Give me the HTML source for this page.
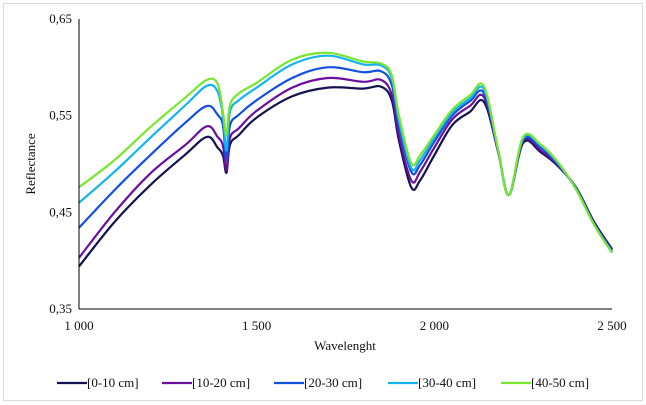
<!DOCTYPE html>
<html><head><meta charset="utf-8"><style>
html,body{margin:0;padding:0;background:#fff;}
svg{display:block;font-family:"Liberation Serif",serif;}
</style></head><body>
<svg id="chart" width="646" height="405">
<rect x="3.5" y="3.5" width="639" height="397" fill="#fff" stroke="#d9d9d9"/>
<g id="plot"></g>
<g id="axes"></g>
<g id="legend"></g>
</svg>
<script>
const wavelengths=[1000,1100,1200,1300,1360,1390,1405,1415,1425,1450,1500,1600,1700,1800,1850,1880,1900,1935,1960,2000,2050,2100,2140,2180,2210,2250,2300,2350,2400,2450,2500];
const s0_10=[.394,.440,.478,.510,.528,.517,.509,.491,.520,.530,.548,.570,.579,.578,.580,.566,.525,.476,.483,.509,.540,.554,.564,.512,.468,.522,.512,.497,.475,.440,.412];
const s10_20=[.403,.450,.490,.520,.539,.528,.519,.494,.527,.537,.555,.579,.589,.585,.587,.572,.530,.483,.492,.517,.546,.560,.569,.512,.468,.524,.514,.498,.474,.439,.411];
const s20_30=[.434,.473,.509,.543,.560,.551,.540,.504,.540,.551,.566,.589,.600,.595,.596,.582,.540,.492,.499,.523,.550,.565,.573,.513,.468,.525,.517,.499,.474,.438,.410];
const s30_40=[.460,.492,.527,.561,.581,.575,.549,.514,.554,.566,.579,.603,.612,.603,.602,.589,.546,.496,.504,.527,.553,.568,.577,.514,.468,.527,.519,.500,.473,.437,.409];
const s40_50=[.476,.504,.538,.569,.587,.583,.554,.530,.561,.573,.584,.608,.615,.606,.604,.592,.551,.501,.509,.530,.556,.571,.580,.514,.468,.528,.520,.501,.473,.437,.408];
const seriesNames=["[0-10 cm]","[10-20 cm]","[20-30 cm]","[30-40 cm]","[40-50 cm]"];
const seriesColors=["#14124f","#6a0f9e","#1450e0","#14b4f0","#78e62e"];
const xTicks=[1000,1500,2000,2500];
const xTickLabels=["1 000","1 500","2 000","2 500"];
const yTicks=[0.35,0.45,0.55,0.65];
const yTickLabels=["0,35","0,45","0,55","0,65"];
const allSeries=[s0_10,s10_20,s20_30,s30_40,s40_50];
const NS="http://www.w3.org/2000/svg";
const X0=79,X1=612,Y0=309,Y1=19;
function xs(w){return X0+(w-1000)/1500*(X1-X0);}
function ys(v){return Y0-(v-0.35)/0.3*(Y0-Y1);}
function mk(tag,attrs,parent){const e=document.createElementNS(NS,tag);for(const k in attrs)e.setAttribute(k,attrs[k]);parent.appendChild(e);return e;}
function smoothPath(pts){
  let d='M'+pts[0][0].toFixed(1)+','+pts[0][1].toFixed(1);
  const t=0.35;
  for(let i=0;i<pts.length-1;i++){
    const p0=pts[i-1]||pts[i],p1=pts[i],p2=pts[i+1],p3=pts[i+2]||p2;
    const c1x=p1[0]+(p2[0]-p0[0])*t/2, c1y=p1[1]+(p2[1]-p0[1])*t/2;
    const c2x=p2[0]-(p3[0]-p1[0])*t/2, c2y=p2[1]-(p3[1]-p1[1])*t/2;
    d+=' C'+c1x.toFixed(1)+','+c1y.toFixed(1)+' '+c2x.toFixed(1)+','+c2y.toFixed(1)+' '+p2[0].toFixed(1)+','+p2[1].toFixed(1);
  }
  return d;
}
const plot=document.getElementById('plot'),axes=document.getElementById('axes'),legend=document.getElementById('legend');
allSeries.forEach((s,i)=>{
  const pts=s.map((v,j)=>[xs(wavelengths[j]),ys(v)]);
  const p=mk('path',{d:smoothPath(pts),fill:'none',stroke:seriesColors[i],'stroke-width':2.2,'stroke-linejoin':'round'},plot);
  
  
});
const ya=mk('line',{x1:X0,y1:Y1,x2:X0,y2:Y0,stroke:'#000','stroke-width':1},axes);


const xa=mk('line',{x1:X0,y1:Y0,x2:X1,y2:Y0,stroke:'#000','stroke-width':1},axes);


yTicks.forEach((t,i)=>{
  const e=mk('text',{x:72,y:ys(t)+4,'text-anchor':'end','font-size':13,fill:'#111'},axes);
  e.textContent=yTickLabels[i];
  
  
});
xTicks.forEach((t,i)=>{
  const e=mk('text',{x:xs(t),y:330,'text-anchor':'middle','font-size':13,fill:'#111'},axes);
  e.textContent=xTickLabels[i];
  
  
});
const xt=mk('text',{x:345,y:350,'text-anchor':'middle','font-size':13,fill:'#111'},axes);
xt.textContent='Wavelenght';


const yt=mk('text',{x:0,y:0,'text-anchor':'middle','font-size':13,fill:'#111',transform:'translate(35,164) rotate(-90)'},axes);
yt.textContent='Reflectance';


const legX=[57,162,274,388,501];
seriesNames.forEach((n,i)=>{
  const g=mk('g',{},legend);
  
  
  mk('line',{x1:legX[i],y1:383,x2:legX[i]+30,y2:383,stroke:seriesColors[i],'stroke-width':2.2},g);
  const t=mk('text',{x:legX[i]+30,y:387,'font-size':13,fill:'#111'},g);
  t.textContent=n;
});
</script>
</body></html>
